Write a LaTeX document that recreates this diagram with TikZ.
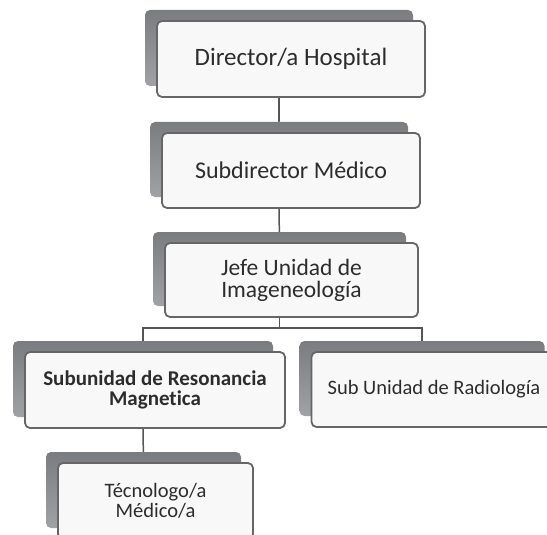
\documentclass[tikz,border=0pt]{standalone}
\usepackage{fontspec}
\setmainfont{Carlito}[Ligatures=NoCommon]
\usetikzlibrary{
	shadows,
	backgrounds
}
\definecolor{borde}{HTML}{666666}
\definecolor{sombraA}{HTML}{7A7C80}
\definecolor{sombraB}{HTML}{A0A2A6}
\definecolor{linea}{HTML}{555555}
\definecolor{caja}{HTML}{F8F8F8}
\definecolor{texto}{HTML}{2C2C2C}
\begin{document}
\begin{tikzpicture}
[x=1pt, y=-1pt,
 cargo/.style={draw=borde, line width=1.8pt, rounded corners=5pt, fill=caja,
  text=texto, align=center, inner sep=0pt,
  copy shadow={shadow xshift=-12pt, shadow yshift=11pt, draw=none,
   top color=sombraA, bottom color=sombraB}},
 enlace/.style={draw=linea, line width=1.5pt}]
\def\dx{-12pt}
\clip (0,0) rectangle (547,535);
\node[cargo, minimum width=268, minimum height=76, font=\fontsize{25}{27}\selectfont]
 (dir) at (291,59) {Director/a Hospital};
\node[cargo, minimum width=258, minimum height=75, font=\fontsize{24}{26}\selectfont]
 (subdir) at (291,170.5) {Subdirector Médico};
\node[cargo, minimum width=253, minimum height=74, font=\fontsize{23.5}{22}\selectfont]
 (jefe) at (291.5,280) {Jefe Unidad de\\Imageneología};
\node[cargo, minimum width=260, minimum height=76, font=\bfseries\fontsize{21}{20.5}\selectfont]
 (reso) at (155,390) {Subunidad de Resonancia\\Magnetica};
\node[cargo, minimum width=245, minimum height=75, font=\fontsize{20.5}{22}\selectfont]
 (radio) at (434,389.5) {Sub Unidad de Radiología};
\node[cargo, minimum width=195, minimum height=76, font=\fontsize{20.5}{20}\selectfont]
 (tecno) at (155.5,501) {Técnologo/a\\Médico/a};
\begin{scope}[on background layer]
\draw[enlace] ([xshift=\dx]dir.south) -- ([xshift=\dx]subdir.north);
\draw[enlace] ([xshift=\dx]subdir.south) -- ([xshift=\dx]jefe.north);
\draw[enlace] ([xshift=\dx]jefe.south) -- ++(0,10) coordinate (rama);
\draw[enlace] ([xshift=\dx]reso.north) |- (rama) -| ([xshift=\dx]radio.north);
\draw[enlace] ([xshift=\dx]reso.south) -- ([xshift=\dx]tecno.north);
\end{scope}
\end{tikzpicture}
\end{document}
